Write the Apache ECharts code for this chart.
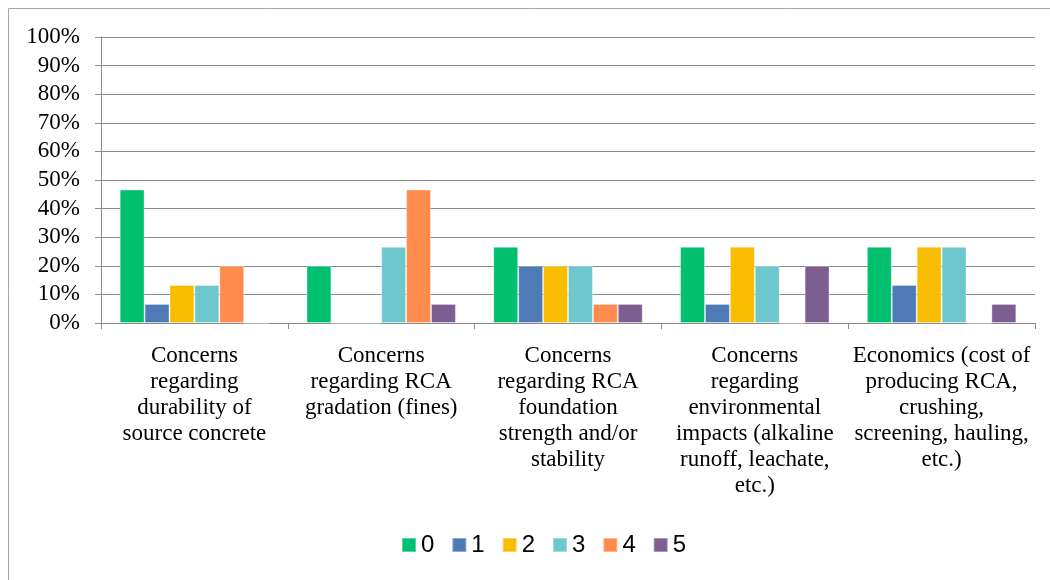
<!DOCTYPE html>
<html>
<head>
<meta charset="utf-8">
<style>
  html, body { margin: 0; padding: 0; background: #ffffff; }
  #chart { width: 1050px; height: 580px; }
</style>
<script src="https://cdn.jsdelivr.net/npm/echarts@6/dist/echarts.min.js"></script>
</head>
<body>
<div id="chart"></div>
<script>
// Survey concern categories (line breaks as they wrap under each group)
const categories = [
  'Concerns\nregarding\ndurability of\nsource concrete',
  'Concerns\nregarding RCA\ngradation (fines)',
  'Concerns\nregarding RCA\nfoundation\nstrength and/or\nstability',
  'Concerns\nregarding\nenvironmental\nimpacts (alkaline\nrunoff, leachate,\netc.)',
  'Economics (cost of\nproducing RCA,\ncrushing,\nscreening, hauling,\netc.)'
];

// Share of responses (%) for each rating 0-5
const rating0 = [46.67, 20.00, 26.67, 26.67, 26.67];
const rating1 = [6.67, 0, 20.00, 6.67, 13.33];
const rating2 = [13.33, 0, 20.00, 26.67, 26.67];
const rating3 = [13.33, 26.67, 20.00, 20.00, 26.67];
const rating4 = [20.00, 46.67, 6.67, 0, 0];
const rating5 = [0, 6.67, 6.67, 20.00, 6.67];

const seriesNames = ['0', '1', '2', '3', '4', '5'];
const seriesData = [rating0, rating1, rating2, rating3, rating4, rating5];
const colors = ['#00bf6f', '#4e7bb5', '#f8bd00', '#6cc8cc', '#ff8b4f', '#7d5e90'];

const chart = echarts.init(document.getElementById('chart'), null, { renderer: 'canvas' });

chart.setOption({
  animation: false,
  color: colors,
  graphic: [{
    type: 'rect',
    shape: { x: 8.5, y: 8.5, width: 1100, height: 700 },
    style: { fill: 'none', stroke: '#a6a6a6', lineWidth: 1 },
    silent: true
  }],
  grid: { left: 101, right: 15, top: 37, bottom: 257, containLabel: false },
  legend: {
    top: 528,
    left: 396,
    itemWidth: 14,
    itemHeight: 14,
    itemGap: 17,
    icon: 'rect',
    textStyle: { fontFamily: 'Liberation Sans, Open Sans, sans-serif', fontSize: 24, color: '#000' },
    data: seriesNames
  },
  xAxis: {
    type: 'category',
    data: categories,
    axisLine: { lineStyle: { color: '#8c8c8c', width: 1 } },
    axisTick: { show: true, length: 6, lineStyle: { color: '#8c8c8c' } },
    axisLabel: {
      interval: 0,
      margin: 20,
      fontFamily: 'Liberation Serif, Times New Roman, serif',
      fontSize: 23,
      lineHeight: 26,
      color: '#000',
      align: 'center'
    }
  },
  yAxis: {
    type: 'value',
    min: 0,
    max: 100,
    interval: 10,
    axisLine: { show: true, lineStyle: { color: '#8c8c8c', width: 1 } },
    axisTick: { show: true, length: 6, lineStyle: { color: '#8c8c8c' } },
    splitLine: { lineStyle: { color: '#8c8c8c', width: 1 } },
    axisLabel: {
      formatter: '{value}%',
      margin: 21,
      fontFamily: 'Liberation Serif, Times New Roman, serif',
      fontSize: 23,
      color: '#000'
    }
  },
  series: seriesNames.map((name, i) => ({
    name: name,
    type: 'bar',
    data: seriesData[i],
    barGap: '0%',
    barCategoryGap: '20%',
    itemStyle: { color: colors[i], borderColor: 'rgba(255,255,255,0.35)', borderWidth: 1 }
  }))
});
</script>
</body>
</html>
